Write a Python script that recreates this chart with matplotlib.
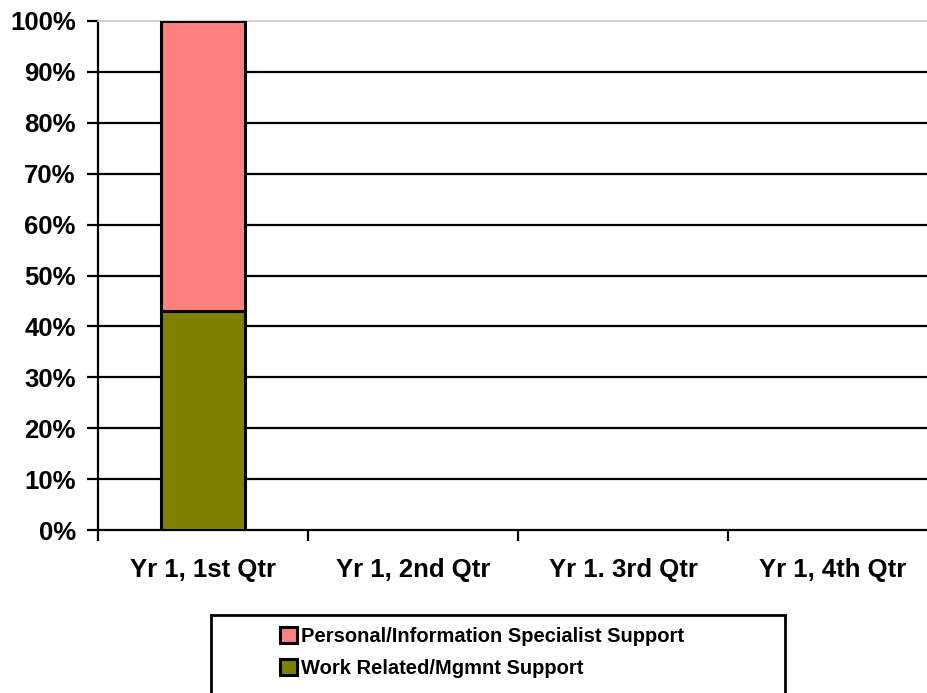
import numpy as np
import matplotlib
matplotlib.use('Agg')
import matplotlib.pyplot as plt
from matplotlib.patches import Rectangle

plt.rcParams['font.family'] = ['Liberation Sans', 'DejaVu Sans']
plt.rcParams['font.weight'] = 'bold'

# data (percent of quarter total)
quarters = ['Yr 1, 1st Qtr', 'Yr 1, 2nd Qtr', 'Yr 1. 3rd Qtr', 'Yr 1, 4th Qtr']
work_related = [43, np.nan, np.nan, np.nan]
personal_info = [57, np.nan, np.nan, np.nan]
series_names = ['Work Related/Mgmnt Support', 'Personal/Information Specialist Support']
colors = ['#808000', '#FF8080']
yticks = [0, 10, 20, 30, 40, 50, 60, 70, 80, 90, 100]

fig = plt.figure(figsize=(9.28, 6.93), dpi=100)
ax = fig.add_axes([98/928, (693-530)/693, 840/928, 509/693])

x = np.arange(len(quarters))
b1 = ax.bar(x, work_related, width=0.4, color=colors[0], edgecolor='black', linewidth=2.2, zorder=3)
b2 = ax.bar(x, personal_info, width=0.4, bottom=work_related, color=colors[1],
            edgecolor='black', linewidth=2.2, zorder=3)

ax.set_xlim(-0.5, len(quarters) - 0.5)
ax.set_ylim(0, 100)

# gridlines
for t in yticks[1:-1]:
    ax.axhline(t, color='black', linewidth=1.6, zorder=1)

ax.set_yticks(yticks)
ax.set_yticklabels([f'{t}%' for t in yticks], fontsize=18.5, fontweight='bold')
ax.tick_params(axis='y', length=8, width=1.6, pad=8)

ax.set_xticks(x)
ax.set_xticklabels(quarters, fontsize=18.5, fontweight='bold')
ax.set_xticks(np.arange(len(quarters) + 1) - 0.5, minor=True)
ax.tick_params(axis='x', which='major', length=0, pad=20)
ax.tick_params(axis='x', which='minor', length=8, width=1.6, direction='out')

ax.spines['left'].set_linewidth(1.6)
ax.spines['bottom'].set_linewidth(1.6)
ax.spines['top'].set_color('#C8C8C8')
ax.spines['top'].set_linewidth(1.2)
ax.spines['right'].set_visible(False)

# legend box
fig.patches.append(Rectangle((211/928, -0.05), (785-211)/928, (693-615)/693 + 0.05,
                             transform=fig.transFigure, facecolor='white',
                             edgecolor='black', linewidth=2, zorder=0))
leg = fig.legend([b2, b1], [series_names[1], series_names[0]],
                 loc='upper left', bbox_to_anchor=(280/928, 1 - 627/693),
                 frameon=False, prop={'size': 14.5, 'weight': 'bold'},
                 handlelength=0.85, handleheight=0.85, handletextpad=0.2,
                 labelspacing=0.65, borderpad=0, borderaxespad=0)

fig.savefig('out.png', dpi=100)
